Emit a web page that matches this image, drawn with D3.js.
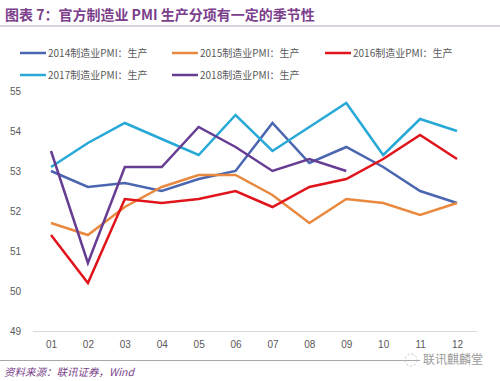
<!DOCTYPE html>
<html><head><meta charset="utf-8">
<script src="https://cdn.jsdelivr.net/npm/d3@7/dist/d3.min.js"></script>
<style>body{margin:0;background:#fff}svg{display:block}</style>
</head><body><div id="chart"></div>
<script>
const months = ["01","02","03","04","05","06","07","08","09","10","11","12"];
const yTicks = [49,50,51,52,53,54,55];
const seriesNames = ["2014制造业PMI：生产","2015制造业PMI：生产","2016制造业PMI：生产","2017制造业PMI：生产","2018制造业PMI：生产"];
const s2014 = [53.0,52.6,52.7,52.5,52.8,53.0,54.2,53.2,53.6,53.1,52.5,52.2];
const s2015 = [51.7,51.4,52.1,52.6,52.9,52.9,52.4,51.7,52.3,52.2,51.9,52.2];
const s2016 = [51.4,50.2,52.3,52.2,52.3,52.5,52.1,52.6,52.8,53.3,53.9,53.3];
const s2017 = [53.1,53.7,54.2,53.8,53.4,54.4,53.5,54.1,54.7,53.4,54.3,54.0];
const s2018 = [53.5,50.7,53.1,53.1,54.1,53.6,53.0,53.3,53.0];
const colors = ["#4a66b0","#e8893f","#e0141a","#27a8d6","#673d93"];
const allSeries = [s2014,s2015,s2016,s2017,s2018];

const W=500,H=381;
const svg=d3.select("#chart").append("svg").attr("width",W).attr("height",H)
  .style("font-family","'Noto Sans CJK SC','Noto Sans',sans-serif");

svg.append("text").attr("x",5).attr("y",20).attr("font-size",14).attr("font-weight","bold")
  .attr("fill","#7b3f8c").text("图表 7：官方制造业 PMI 生产分项有一定的季节性");
svg.append("line").attr("x1",0).attr("x2",500).attr("y1",26).attr("y2",26).attr("stroke","#b8a8bc").attr("stroke-width",1.2);

const x=d3.scalePoint().domain(months).range([51,457]);
const y=d3.scaleLinear().domain([49,55]).range([331,91]);

const yAxis=svg.append("g").attr("transform","translate(33,0)")
  .call(d3.axisLeft(y).tickValues(yTicks).tickFormat(d3.format("d")).tickSize(0).tickPadding(4));
yAxis.select(".domain").remove();
yAxis.selectAll("text").attr("fill","#595959").attr("font-size",10).attr("text-anchor","start").attr("x",-23);

const xAxis=svg.append("g").attr("transform","translate(0,331)")
  .call(d3.axisBottom(x).tickSize(0).tickPadding(10));
xAxis.select(".domain").attr("stroke","#d9d9d9").attr("d","M33,0.5H477");
xAxis.selectAll("text").attr("fill","#595959").attr("font-size",10);

const line=d3.line().x((d,i)=>x(months[i])).y(d=>y(d));
allSeries.forEach((s,k)=>{
  svg.append("path").datum(s).attr("d",line).attr("fill","none")
    .attr("stroke",colors[k]).attr("stroke-width",2.5).attr("stroke-linejoin","miter");
});

const legPos=[[20,53],[172,53],[325,53],[20,75],[172,75]];
seriesNames.forEach((n,k)=>{
  const [lx,ly]=legPos[k];
  svg.append("line").attr("x1",lx).attr("x2",lx+26).attr("y1",ly).attr("y2",ly)
    .attr("stroke",colors[k]).attr("stroke-width",2.5);
  svg.append("text").attr("x",lx+28).attr("y",ly+3.5).attr("font-size",10).attr("fill","#595959").text(n);
});

svg.append("line").attr("x1",0).attr("x2",486).attr("y1",360.5).attr("y2",360.5).attr("stroke","#a8a8a8").attr("stroke-width",1);
svg.append("text").attr("x",4).attr("y",376).attr("font-size",10.5).attr("font-style","italic")
  .attr("fill","#7b3f8c").text("资料来源：联讯证券，Wind");
svg.append("rect").attr("x",420).attr("y",352).attr("width",66).attr("height",16).attr("fill","#fff");
svg.append("circle").attr("cx",411).attr("cy",360).attr("r",6).attr("fill","none").attr("stroke","#bbb").attr("stroke-width",1).attr("stroke-dasharray","2,2");
svg.append("text").attr("x",423).attr("y",364).attr("font-size",12).attr("fill","#9a9a9a").text("联讯麒麟堂");
</script></body></html>
